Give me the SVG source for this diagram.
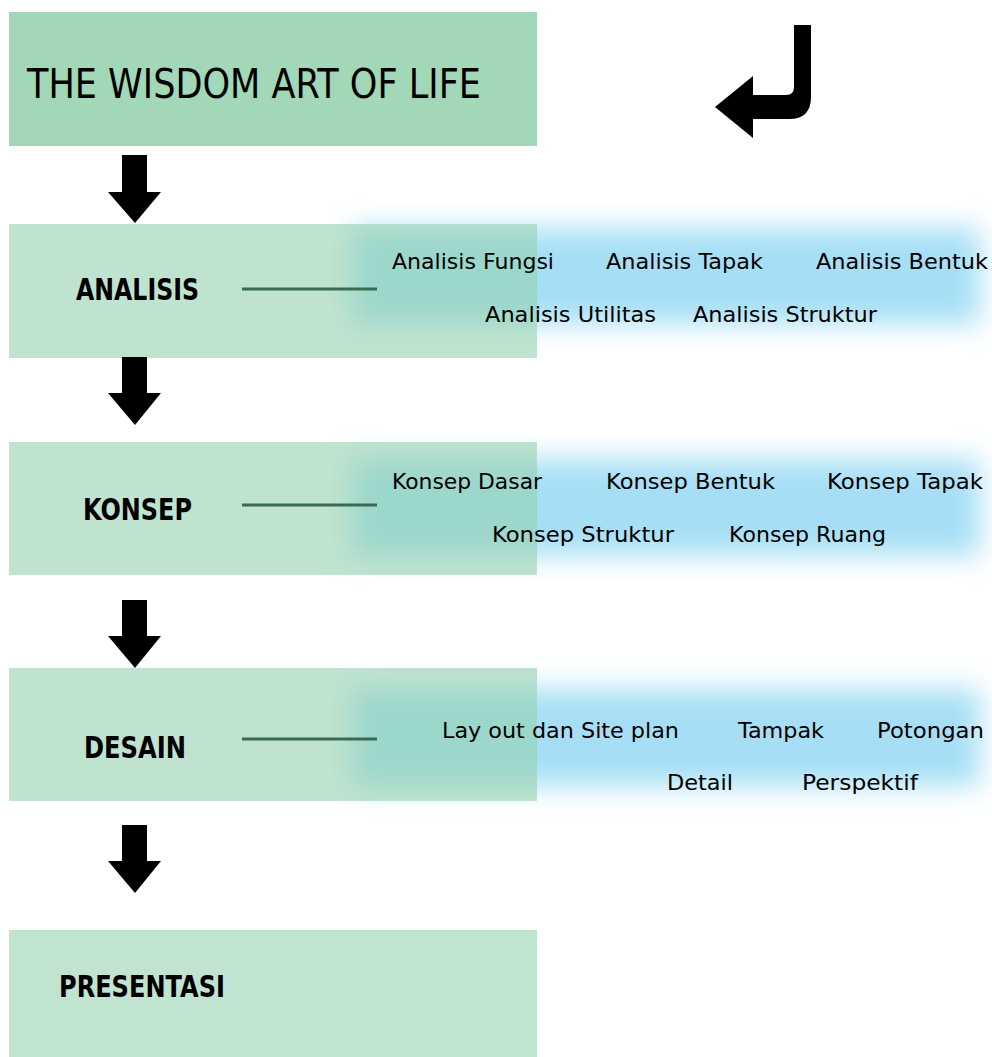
<svg xmlns="http://www.w3.org/2000/svg" width="992" height="1057" viewBox="0 0 992 1057">
<defs>
<style>
.box{fill:#97d2b0;fill-opacity:0.61}
.band{fill:#a6dff5;filter:url(#blur)}
.lbl{font-family:"DejaVu Sans","Liberation Sans",sans-serif;font-weight:bold;font-size:30px;fill:#000}
.sub{font-family:"DejaVu Sans","Liberation Sans",sans-serif;font-size:21px;fill:#000}
.arr{fill:#000}
.conn{stroke:#3a6a52;stroke-width:3;fill:none}
</style>
<filter id="blur" x="-15%" y="-60%" width="130%" height="220%"><feGaussianBlur stdDeviation="14"/></filter>
</defs>
<rect width="992" height="1057" fill="#fff"/>
<g id="bands">
<rect class="band" x="352" y="228" width="628" height="96"/>
<rect class="band" x="352" y="459" width="628" height="97"/>
<rect class="band" x="352" y="689" width="628" height="97"/>
</g>
<g id="title">
<rect x="9" y="12" width="528" height="134" fill="#a2d7b7"/>
<text x="27" y="98" font-family="DejaVu Sans, Liberation Sans, sans-serif" font-size="40" textLength="454" lengthAdjust="spacingAndGlyphs">THE WISDOM ART OF LIFE</text>
</g>
<g id="analisis">
<rect class="box" x="9" y="224" width="528" height="134"/>
<text class="lbl" x="76" y="300" textLength="123" lengthAdjust="spacingAndGlyphs">ANALISIS</text>
</g>
<g id="konsep">
<rect class="box" x="9" y="442" width="528" height="133"/>
<text class="lbl" x="83" y="520" textLength="109" lengthAdjust="spacingAndGlyphs">KONSEP</text>
</g>
<g id="desain">
<rect class="box" x="9" y="668" width="528" height="133"/>
<text class="lbl" x="84" y="758" textLength="102" lengthAdjust="spacingAndGlyphs">DESAIN</text>
</g>
<g id="presentasi">
<rect x="9" y="930" width="528" height="127" fill="#c0e4cf"/>
<text class="lbl" x="59" y="997" textLength="166" lengthAdjust="spacingAndGlyphs">PRESENTASI</text>
</g>
<g id="analisis-items">
<text class="sub" x="392" y="269" textLength="162" lengthAdjust="spacingAndGlyphs">Analisis Fungsi</text>
<text class="sub" x="606" y="269" textLength="157" lengthAdjust="spacingAndGlyphs">Analisis Tapak</text>
<text class="sub" x="816" y="269" textLength="172" lengthAdjust="spacingAndGlyphs">Analisis Bentuk</text>
<text class="sub" x="485" y="322" textLength="171" lengthAdjust="spacingAndGlyphs">Analisis Utilitas</text>
<text class="sub" x="693" y="322" textLength="184" lengthAdjust="spacingAndGlyphs">Analisis Struktur</text>
</g>
<g id="konsep-items">
<text class="sub" x="392" y="489" textLength="150" lengthAdjust="spacingAndGlyphs">Konsep Dasar</text>
<text class="sub" x="606" y="489" textLength="169" lengthAdjust="spacingAndGlyphs">Konsep Bentuk</text>
<text class="sub" x="827" y="489" textLength="156" lengthAdjust="spacingAndGlyphs">Konsep Tapak</text>
<text class="sub" x="492" y="542" textLength="182" lengthAdjust="spacingAndGlyphs">Konsep Struktur</text>
<text class="sub" x="729" y="542" textLength="157" lengthAdjust="spacingAndGlyphs">Konsep Ruang</text>
</g>
<g id="desain-items">
<text class="sub" x="442" y="738" textLength="237" lengthAdjust="spacingAndGlyphs">Lay out dan Site plan</text>
<text class="sub" x="738" y="738" textLength="86" lengthAdjust="spacingAndGlyphs">Tampak</text>
<text class="sub" x="877" y="738" textLength="107" lengthAdjust="spacingAndGlyphs">Potongan</text>
<text class="sub" x="667" y="790" textLength="66" lengthAdjust="spacingAndGlyphs">Detail</text>
<text class="sub" x="802" y="790" textLength="116" lengthAdjust="spacingAndGlyphs">Perspektif</text>
</g>
<g id="connectors">
<line class="conn" x1="242" y1="289" x2="377" y2="289"/>
<line class="conn" x1="242" y1="505" x2="377" y2="505"/>
<line class="conn" x1="242" y1="739" x2="377" y2="739"/>
<path class="arr" d="M122 155H147V192H161L135 223L108 192H122Z"/>
<path class="arr" d="M122 357H147V393H161L135 425L108 393H122Z"/>
<path class="arr" d="M122 600H147V636H161L135 668L108 636H122Z"/>
<path class="arr" d="M122 825H147V861H161L135 893L108 861H122Z"/>
<path class="arr" d="M794 25H811V97Q811 119 789 119H753V138L715 107L753 76V95H786Q794 95 794 87Z"/>
</g>
</svg>
